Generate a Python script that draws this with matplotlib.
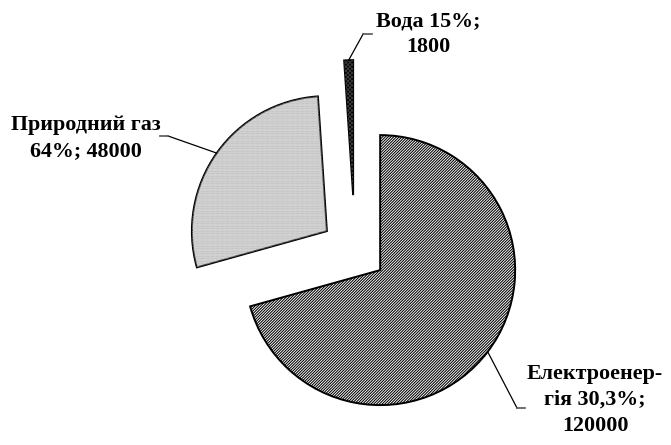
import matplotlib.pyplot as plt
import numpy as np
from matplotlib.patches import Wedge

# data
values = [120000, 48000, 1800]
labels = ['Електроенер-\nгія 30,3%;\n120000',
          'Природний газ\n64%; 48000',
          'Вода 15%;\n1800']
explode = [0.234, 0.255, 0.414]

plt.rcParams['font.family'] = ['Liberation Serif', 'DejaVu Serif']
plt.rcParams['hatch.linewidth'] = 0.75

fig = plt.figure(figsize=(6.71, 4.45), dpi=100)
ax = fig.add_axes([0, 0, 1, 1])

wedges, _ = ax.pie(values, explode=explode, startangle=90, counterclock=False,
                   radius=1.0,
                   wedgeprops=dict(edgecolor='black', linewidth=1.4))

# fills: dense diagonal hatch, light dotted grey, black
wedges[0].set_facecolor('white')
wedges[0].set_hatch('/' * 12)
wedges[1].set_facecolor('#e4e4e4')
wedges[2].set_facecolor('black')

# extra texture patches so the outlines stay black
w = wedges[1]
ax.add_patch(Wedge(w.center, w.r, w.theta1, w.theta2, facecolor='none',
                   edgecolor='#b0b0b0', linewidth=0, hatch='.' * 10))
w = wedges[2]
ax.add_patch(Wedge(w.center, w.r, w.theta1, w.theta2, facecolor='none',
                   edgecolor='#3a3a3a', linewidth=0, hatch='x' * 8))

label_pos = [(1.778, -1.104), (-1.993, 0.837), (0.541, 1.604)]
elbow = [(1.20, -1.163), (-1.385, 0.852), (0.06, 1.607)]
leader_end = [(1.259, -1.163), (-1.444, 0.852), (0.126, 1.607)]

for wd, lab, pos, elb, end in zip(wedges, labels, label_pos, elbow, leader_end):
    ang = np.deg2rad((wd.theta1 + wd.theta2) / 2)
    cx, cy = wd.center
    sx, sy = cx + wd.r * np.cos(ang), cy + wd.r * np.sin(ang)
    ax.plot([sx, elb[0]], [sy, elb[1]], color='black', lw=0.9)
    ax.plot([elb[0], end[0]], [elb[1], end[1]], color='#555555', lw=1.2)
    ax.text(pos[0], pos[1], lab, ha='center', va='center', fontsize=15.8,
            fontweight='bold', linespacing=1.38)

ax.set_xlim(-355 / 135, (671 - 355) / 135)
ax.set_ylim(-(445 - 251) / 135, 251 / 135)
ax.set_aspect('auto')
ax.axis('off')

plt.savefig('out.png', dpi=100)
